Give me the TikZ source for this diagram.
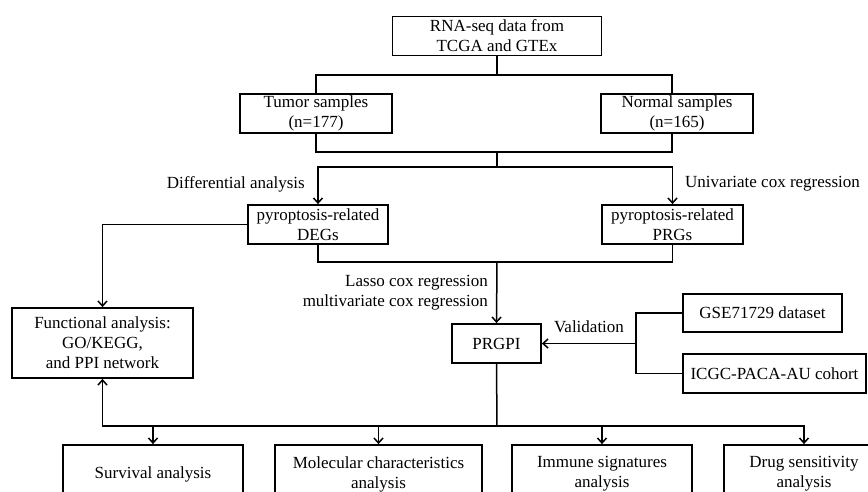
\documentclass[tikz,border=0pt]{standalone}
\usepackage{fontspec}
\setmainfont{Liberation Serif}
\usepackage{tikz}
\usetikzlibrary{arrows.meta,
                calc,
                positioning,}

\begin{document}
\begin{tikzpicture}[line cap=butt,line join=miter,x=1pt,y=-1pt,
  >={Straight Barb[length=5pt,width=9pt]},
  box/.style={draw,line width=1.8pt,align=center,inner sep=0pt,
    font=\fontsize{17}{20}\selectfont},
  lbl/.style={inner sep=0pt,align=right,font=\fontsize{17}{20}\selectfont},
  conn/.style={line width=1.5pt}]
\useasboundingbox (0,0) rectangle (868,491);
\clip (0,0) rectangle (868,491);
%\draw[help lines] (0,0) grid[step=50] (868,491);
% boxes
\node[box,minimum width=209,minimum height=39] (rna) at (497,36) {RNA-seq data from\\TCGA and GTEx};
\node[box,minimum width=152,minimum height=39] (tumor) at (316,113.5) {Tumor samples\\(n=177)};
\node[box,minimum width=152,minimum height=39] (normal) at (677,113.5) {Normal samples\\(n=165)};
\node[box,minimum width=140,minimum height=39] (degs) at (318,224.5) {pyroptosis-related\\DEGs};
\node[box,minimum width=141,minimum height=39] (prgs) at (672.5,224.5) {pyroptosis-related\\PRGs};
\node[box,minimum width=181,minimum height=70] (func) at (102.5,343) {Functional analysis:\\GO/KEGG,\\and PPI network};
\node[box,minimum width=89,minimum height=39] (prgpi) at (496.5,343.5) {PRGPI};
\node[box,minimum width=159,minimum height=38] (gse) at (762.5,313) {GSE71729 dataset};
\node[box,minimum width=183,minimum height=39] (icgc) at (774.5,373.5) {ICGC-PACA-AU cohort};
\node[box,minimum width=180,minimum height=58] (surv) at (153,474) {Survival analysis};
\node[box,minimum width=207,minimum height=58] (mol) at (378.5,474) {Molecular characteristics\\analysis};
\node[box,minimum width=180,minimum height=58] (immune) at (602,474) {Immune signatures\\analysis};
\node[box,minimum width=160,minimum height=58] (drug) at (804,474) {Drug sensitivity\\analysis};
% labels
\node[lbl,anchor=east] (difflbl) at (305,184) {Differential analysis};
\node[lbl,anchor=west,align=left] (unilbl) at (685,184) {Univariate cox regression};
\node[lbl,anchor=east] (lassolbl) at (488,293) {Lasso cox regression\\multivariate cox regression};
\node[lbl] (vallbl) at (589,327) {Validation};
% joints
\coordinate (split1) at (497,75);
\coordinate (merge1) at (497,152);
\coordinate (split2) at (497,167);
\coordinate (merge2) at (497,262);
\coordinate (vsplit) at (636,343.5);
\coordinate (bsplit) at (497,426);
% connectors
\draw[conn] (rna) -- (split1);
\draw[conn] (tumor.north) |- (split1) -| ($(normal.north)+(-5,0)$);
\draw[conn] (tumor.south) |- (merge1) -| ($(normal.south)+(-5,0)$);
\draw[conn] (merge1) -- (split2);
\draw[conn,->] (split2) -| (degs.north);
\draw[conn,->] (split2) -| (prgs.north);
\draw[conn,->] (degs.west) -| (func.north);
\draw[conn] (degs.south) |- (merge2) -| (prgs.south);
\draw[conn,->] (merge2) -- (prgpi.north);
\draw[conn] (gse.west) -| (vsplit) |- (icgc.west);
\draw[conn,->] (vsplit) -- (prgpi.east);
\draw[conn] (prgpi.south) -- (bsplit);
\draw[conn,->] (bsplit) -| (func.south);
\draw[conn,->] (bsplit) -| (surv.north);
\draw[conn,->] (bsplit) -| (mol.north);
\draw[conn,->] (bsplit) -| (immune.north);
\draw[conn,->] (bsplit) -| (drug.north);
\end{tikzpicture}
\end{document}
